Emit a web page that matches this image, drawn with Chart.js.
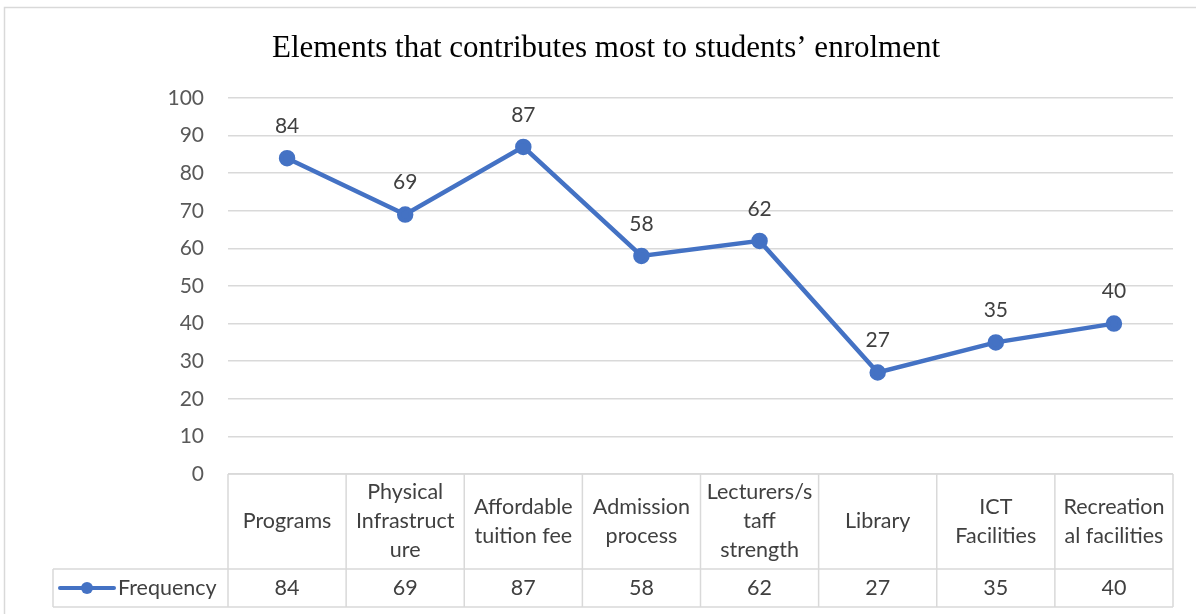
<!DOCTYPE html>
<html>
<head>
<meta charset="utf-8">
<script src="https://cdn.jsdelivr.net/npm/chart.js@4"></script>
<style>
  html, body { margin: 0; padding: 0; background: #fff; }
  #wrap { width: 1196px; height: 614px; }
</style>
</head>
<body>
<div id="wrap"><canvas id="enrolChart" width="1196" height="614"></canvas></div>
<script>
// Data
const categories = ['Programs', 'Physical Infrastructure', 'Affordable tuition fee', 'Admission process',
  'Lecturers/staff strength', 'Library', 'ICT Facilities', 'Recreational facilities'];
// how Excel wrapped the category text in the data table
const categoryLines = [
  ['Programs'],
  ['Physical', 'Infrastruct', 'ure'],
  ['Affordable', 'tuition fee'],
  ['Admission', 'process'],
  ['Lecturers/s', 'taff', 'strength'],
  ['Library'],
  ['ICT', 'Facilities'],
  ['Recreation', 'al facilities']
];
const frequency = [84, 69, 87, 58, 62, 27, 35, 40];
const seriesName = 'Frequency';
const chartTitle = 'Elements that contributes most to students\u2019 enrolment';

const lineColor = '#4472C4';
const gridColor = '#d9d9d9';
const textColor = '#404040';
const uiFont = 'Lato, "Open Sans", sans-serif';

// frame, title, point labels and the data table under the plot
const tablePlugin = {
  id: 'tablePlugin',
  afterDraw(chart) {
    const ctx = chart.ctx;
    const area = chart.chartArea;
    const x = chart.scales.x;
    const meta = chart.getDatasetMeta(0);
    const colW = (area.right - area.left) / categories.length;
    const headTop = area.bottom;
    const headBottom = 569;
    const rowBottom = 607;
    const legendLeft = 53;

    ctx.save();
    // outer frame
    ctx.strokeStyle = gridColor;
    ctx.lineWidth = 1.5;
    ctx.strokeRect(4.5, 7.5, 1300, 700);

    // title
    ctx.fillStyle = '#000';
    ctx.font = '31px "Liberation Serif", "Times New Roman", serif';
    ctx.textAlign = 'center';
    ctx.textBaseline = 'middle';
    ctx.fillText(chartTitle, 606, 49);

    // point value labels
    ctx.fillStyle = textColor;
    ctx.font = '21px ' + uiFont;
    meta.data.forEach((pt, i) => {
      ctx.fillText(String(frequency[i]), pt.x, pt.y - 32);
    });

    // table grid
    ctx.strokeStyle = gridColor;
    ctx.lineWidth = 1.5;
    ctx.beginPath();
    ctx.moveTo(area.left, headTop); ctx.lineTo(area.right, headTop);
    ctx.moveTo(legendLeft, headBottom); ctx.lineTo(area.right, headBottom);
    ctx.moveTo(legendLeft, rowBottom); ctx.lineTo(area.right, rowBottom);
    ctx.moveTo(legendLeft, headBottom); ctx.lineTo(legendLeft, rowBottom);
    for (let i = 0; i <= categories.length; i++) {
      const cx = area.left + i * colW;
      ctx.moveTo(cx, headTop); ctx.lineTo(cx, rowBottom);
    }
    ctx.stroke();

    // category headers and values
    ctx.fillStyle = textColor;
    ctx.font = '21.5px ' + uiFont;
    const lineH = 29;
    categories.forEach((c, i) => {
      const cx = x.getPixelForValue(i);
      const lines = categoryLines[i];
      const mid = (headTop + headBottom) / 2;
      const start = mid - (lines.length - 1) * lineH / 2;
      lines.forEach((ln, k) => ctx.fillText(ln, cx, start + k * lineH));
      ctx.fillText(String(frequency[i]), cx, (headBottom + rowBottom) / 2);
    });

    // legend key
    const ly = (headBottom + rowBottom) / 2;
    ctx.strokeStyle = lineColor;
    ctx.lineWidth = 4;
    ctx.lineCap = 'round';
    ctx.beginPath();
    ctx.moveTo(60, ly); ctx.lineTo(114, ly);
    ctx.stroke();
    ctx.fillStyle = lineColor;
    ctx.beginPath();
    ctx.arc(87, ly, 6, 0, Math.PI * 2);
    ctx.fill();
    ctx.fillStyle = textColor;
    ctx.textAlign = 'left';
    ctx.fillText(seriesName, 118, ly);
    ctx.restore();
  }
};

new Chart(document.getElementById('enrolChart'), {
  type: 'line',
  data: {
    labels: categories,
    datasets: [{
      label: seriesName,
      data: frequency,
      borderColor: lineColor,
      backgroundColor: lineColor,
      borderWidth: 4.5,
      pointRadius: 6,
      pointBackgroundColor: lineColor,
      pointBorderColor: lineColor,
      tension: 0
    }]
  },
  options: {
    responsive: false,
    animation: false,
    layout: { padding: { left: 0, top: 98, right: 23, bottom: 140 } },
    plugins: {
      legend: { display: false },
      title: { display: false },
      tooltip: { enabled: false }
    },
    scales: {
      x: {
        display: false,
        offset: true
      },
      y: {
        min: 0,
        max: 100,
        ticks: {
          stepSize: 10,
          color: '#595959',
          padding: 24,
          font: { size: 21, family: uiFont }
        },
        grid: { color: gridColor, lineWidth: 1.5, drawTicks: false },
        border: { display: false },
        afterFit(scale) { scale.width = 228; }
      }
    }
  },
  plugins: [tablePlugin]
});
</script>
</body>
</html>
